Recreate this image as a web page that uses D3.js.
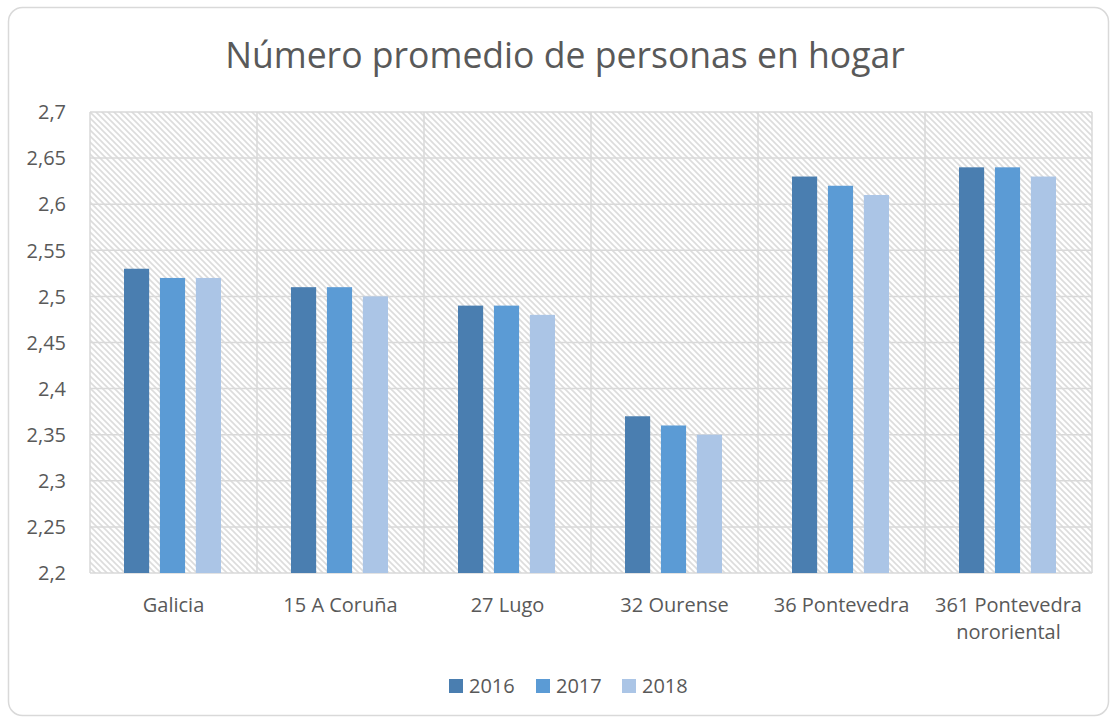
<!DOCTYPE html>
<html>
<head>
<meta charset="utf-8">
<script src="https://cdn.jsdelivr.net/npm/d3@7"></script>
<style>
  body { margin: 0; background: #fff; }
  text { font-family: "Open Sans", Lato, sans-serif; fill: #595959; }
</style>
</head>
<body>
<script>
const categories = [
    ['Galicia'],
    ['15 A Coruña'],
    ['27 Lugo'],
    ['32 Ourense'],
    ['36 Pontevedra'],
    ['361 Pontevedra', 'nororiental']
];
const years = ['2016', '2017', '2018'];
const values2016 = [2.53, 2.51, 2.49, 2.37, 2.63, 2.64];
const values2017 = [2.52, 2.51, 2.49, 2.36, 2.62, 2.64];
const values2018 = [2.52, 2.50, 2.48, 2.35, 2.61, 2.63];
const yTicks = [2.2, 2.25, 2.3, 2.35, 2.4, 2.45, 2.5, 2.55, 2.6, 2.65, 2.7];
const colors = ['#4a7eb0', '#5b9bd5', '#abc5e6'];

const series = [values2016, values2017, values2018];

const W = 1114, H = 718;
const margin = {top: 112, right: 22, bottom: 145, left: 90},
      width = W - margin.left - margin.right,
      height = H - margin.top - margin.bottom;

const root = d3.select("body").append("svg")
    .attr("width", W)
    .attr("height", H);

// hatch pattern for the plot background
const defs = root.append("defs");
const pat = defs.append("pattern")
    .attr("id", "hatch")
    .attr("patternUnits", "userSpaceOnUse")
    .attr("width", 6)
    .attr("height", 6);
pat.append("rect").attr("width", 6).attr("height", 6).attr("fill", "#fff");
pat.append("path")
    .attr("d", "M-1,-1 L7,7 M-1,5 L1,7 M5,-1 L7,1")
    .attr("stroke", "#dcdcdc")
    .attr("stroke-width", 1.6);

// chart border
root.append("rect")
    .attr("x", 8.5).attr("y", 7.5)
    .attr("width", W - 14).attr("height", H - 10)
    .attr("rx", 14)
    .attr("fill", "#fff")
    .attr("stroke", "#d9d9d9")
    .attr("stroke-width", 1.5);

const title = root.append("text")
    .attr("x", 565)
    .attr("y", 68)
    .attr("text-anchor", "middle")
    .style("font-size", "34px")
    .text("Número promedio de personas en hogar");
// fit the title to the width seen in the reference
const tw = title.node().getComputedTextLength();
title.style("font-size", (34 * 680 / tw) + "px");

const svg = root.append("g")
    .attr("transform", `translate(${margin.left},${margin.top})`);

const x = d3.scaleBand()
    .domain(d3.range(categories.length))
    .range([0, width])
    .paddingInner(0)
    .paddingOuter(0);

const x1 = d3.scaleBand()
    .domain(years)
    .range([34, x.bandwidth() - 36])
    .paddingInner(0.3);

const y = d3.scaleLinear()
    .domain([2.2, 2.7])
    .range([height, 0]);

svg.append("rect")
    .attr("width", width)
    .attr("height", height)
    .attr("fill", "url(#hatch)");

// gridlines
svg.append("g")
    .selectAll("line")
    .data(yTicks)
    .enter().append("line")
    .attr("x1", 0).attr("x2", width)
    .attr("y1", d => y(d)).attr("y2", d => y(d))
    .attr("stroke", "#d9d9d9")
    .attr("stroke-width", 1.5);

svg.append("g")
    .selectAll("line")
    .data(d3.range(categories.length + 1))
    .enter().append("line")
    .attr("x1", d => d * x.bandwidth()).attr("x2", d => d * x.bandwidth())
    .attr("y1", 0).attr("y2", height)
    .attr("stroke", "#d9d9d9")
    .attr("stroke-width", 1.5);

// bars
series.forEach((vals, si) => {
    svg.append("g")
        .selectAll("rect")
        .data(vals)
        .enter().append("rect")
        .attr("x", (d, i) => x(i) + x1(years[si]))
        .attr("y", d => y(d))
        .attr("width", x1.bandwidth())
        .attr("height", d => height - y(d))
        .attr("fill", colors[si]);
});

// y axis labels
svg.append("g")
    .selectAll("text")
    .data(yTicks)
    .enter().append("text")
    .attr("x", -24)
    .attr("y", d => y(d))
    .attr("dy", "0.36em")
    .attr("text-anchor", "end")
    .style("font-size", "20px")
    .text(d => d3.format(".2~f")(d).replace(".", ","));

// x axis labels
const xl = svg.append("g")
    .selectAll("text")
    .data(categories)
    .enter().append("text")
    .attr("text-anchor", "middle")
    .attr("transform", (d, i) => `translate(${x(i) + x.bandwidth() / 2},${height + 39})`)
    .style("font-size", "20px");
xl.selectAll("tspan")
    .data(d => d)
    .enter().append("tspan")
    .attr("x", 0)
    .attr("dy", (d, i) => i === 0 ? 0 : 27)
    .text(d => d);

// legend
const legend = root.append("g")
    .attr("transform", "translate(449,686)");
const lx = [0, 87, 173];
years.forEach((yr, i) => {
    const g = legend.append("g").attr("transform", `translate(${lx[i]},0)`);
    g.append("rect")
        .attr("x", 0).attr("y", -7)
        .attr("width", 14).attr("height", 14)
        .attr("fill", colors[i]);
    g.append("text")
        .attr("x", 20)
        .attr("y", 7)
        .style("font-size", "20px")
        .text(yr);
});
</script>
</body>
</html>
